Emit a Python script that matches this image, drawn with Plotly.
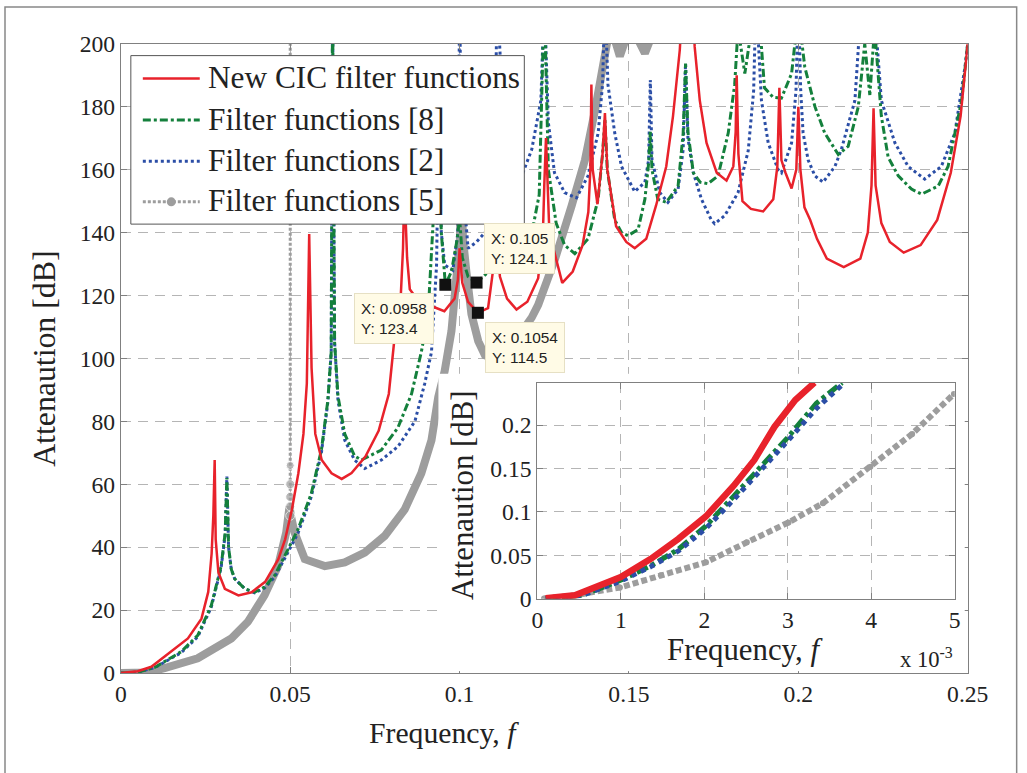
import plotly.graph_objects as go

W, H = 1027, 773

# ---------------- data ----------------
red_x = [0, 0.005, 0.009, 0.013, 0.0198, 0.0238, 0.0258, 0.0268, 0.0273, 0.0277, 0.0280, 0.0288, 0.0307,
         0.0347, 0.0386, 0.0426, 0.0465, 0.0485, 0.0505, 0.0524, 0.0539, 0.0549, 0.0553, 0.0556, 0.0563,
         0.0574, 0.0593, 0.0622, 0.0652, 0.0681, 0.0722, 0.0761, 0.0791, 0.0806, 0.0826, 0.0833, 0.0837,
         0.0845, 0.0853, 0.088, 0.092, 0.0955, 0.0985, 0.0995, 0.1, 0.1008, 0.1025, 0.1054, 0.1084, 0.1096,
         0.1111, 0.1119, 0.1140, 0.1168, 0.1200, 0.1232, 0.1246, 0.1250, 0.1255, 0.1265, 0.1303, 0.1334,
         0.1363, 0.1380, 0.1386, 0.1389, 0.1393, 0.1407, 0.1422, 0.1429, 0.1436, 0.1462, 0.1492, 0.1517,
         0.1551, 0.158, 0.161, 0.163, 0.165, 0.1667, 0.168, 0.1694, 0.1709, 0.1729, 0.1759, 0.1788, 0.1808,
         0.1815, 0.1818, 0.1823, 0.1835, 0.186, 0.1896, 0.1926, 0.1938, 0.1944, 0.1950, 0.1962, 0.198,
         0.1994, 0.2, 0.2006, 0.2018, 0.2035, 0.2055, 0.2084, 0.2134, 0.2183, 0.2205, 0.2216, 0.2222,
         0.2228, 0.2245, 0.2270, 0.2311, 0.2361, 0.241, 0.245, 0.2479, 0.25]
red_y = [0, 0.6, 2.0, 5.3, 11, 17.3, 25.8, 38, 50, 67.7, 42.5, 32, 26.8,
         24.7, 25.7, 29, 36.2, 42.5, 52, 63.5, 76, 92, 115, 139.5, 97,
         76, 67.7, 63.5, 61.7, 63.6, 68.8, 77, 88.7, 104.5, 119, 135, 155,
         132, 122, 118, 116.5, 115, 119, 125, 135, 124, 118, 114.5, 116, 125.5,
         138, 126, 119, 115.5, 118, 125.5, 140, 155, 170, 140, 124, 127.6,
         136, 146.5, 160, 187, 160, 149, 165, 178, 160, 142, 137, 135,
         138, 148.6, 161, 177, 198, 230, 230, 199, 182, 168.5, 159, 156.5, 161,
         172, 190, 165, 150, 147.5, 146.7, 150.6, 161, 186, 163, 159, 154,
         160, 180, 160, 148, 144, 138, 131.7, 129, 131.7, 140, 155, 179.5,
         155, 143, 137, 133.6, 136, 144, 159, 177, 200]

green_x = [0, 0.005, 0.01, 0.0178, 0.0227, 0.0267, 0.0296, 0.0308, 0.0313, 0.0318, 0.0326, 0.0336, 0.0366,
           0.0395, 0.0424, 0.0454, 0.0484, 0.0523, 0.0562, 0.0592, 0.0611, 0.0621, 0.0625, 0.0631, 0.0641,
           0.0661, 0.069, 0.071, 0.0769, 0.0818, 0.0858, 0.0887, 0.0907, 0.0925, 0.0938, 0.0946, 0.0958,
           0.0976, 0.0993, 0.1, 0.1008, 0.1025, 0.105, 0.108, 0.1100, 0.1111, 0.1122, 0.1150, 0.1180, 0.1210,
           0.1235, 0.1250, 0.1262, 0.1285, 0.1310, 0.134, 0.1379, 0.1409, 0.1422, 0.1429, 0.1436, 0.1458,
           0.1478, 0.1497, 0.1527, 0.1547, 0.1558, 0.1563, 0.1568, 0.1585, 0.161, 0.1645, 0.1660, 0.1667,
           0.1674, 0.1690, 0.1710, 0.1733, 0.1763, 0.1793, 0.1812, 0.1822, 0.1842, 0.1862, 0.1880, 0.1900,
           0.1925, 0.195, 0.198, 0.2, 0.2019, 0.2049, 0.2078, 0.2118, 0.2147, 0.2177, 0.2196, 0.2211, 0.2225,
           0.2245, 0.2265, 0.2295, 0.2334, 0.2364, 0.2413, 0.2442, 0.2482, 0.25]
green_y = [0, 0.3, 1.8, 6.8, 12, 21.5, 34, 44.6, 62, 40, 33, 30, 26.8,
           25.7, 27.3, 31, 37.3, 45.7, 57, 70.9, 86.6, 102, 215, 105, 88,
           76, 69, 67.7, 70.9, 78, 88.7, 102, 114, 150, 175, 140, 123.4,
           127.6, 138, 145, 132, 126, 124.1, 127, 135, 143, 138, 134, 133, 138,
           152, 215, 160, 143, 136, 133.3, 138, 150.6, 165, 176, 160, 144,
           140, 139, 141, 150.6, 162, 172, 160, 150.6, 149.6, 154.8, 171.6, 193.7,
           172, 159, 156, 155.5, 158, 171.6, 187, 205, 190.5, 205, 215, 186,
           183, 182.7, 190.5, 210, 192.6, 180, 171.6, 164.8, 167.4, 180, 200, 183.7, 205,
           177, 164, 158, 153.8, 152.2, 154.8, 161, 182, 200]

blue_x = [0, 0.005, 0.01, 0.0178, 0.0227, 0.0267, 0.0296, 0.0308, 0.0313, 0.0318, 0.0326, 0.0336, 0.0366,
          0.0395, 0.0424, 0.0454, 0.0484, 0.0523, 0.0562, 0.0592, 0.0611, 0.0621, 0.0625, 0.0631, 0.0641,
          0.0661, 0.069, 0.072, 0.0769, 0.0818, 0.0868, 0.0897, 0.0917, 0.0932, 0.0938, 0.0946, 0.0956,
          0.098, 0.0995, 0.1, 0.1006, 0.1025, 0.1050, 0.1075, 0.1100, 0.1111, 0.1125, 0.1150, 0.1173, 0.1213,
          0.1240, 0.1250, 0.1262, 0.128, 0.131, 0.1345, 0.1379, 0.1409, 0.1422, 0.1429, 0.1438, 0.1458,
          0.1478, 0.1507, 0.1517, 0.1547, 0.1558, 0.1563, 0.1568, 0.1591, 0.1615, 0.1645, 0.1660, 0.1667,
          0.1674, 0.1690, 0.1714, 0.1743, 0.1753, 0.1783, 0.1822, 0.1852, 0.1868, 0.1875, 0.1891, 0.1911,
          0.194, 0.195, 0.198, 0.1993, 0.2, 0.2007, 0.2014, 0.2029, 0.2049, 0.2073, 0.2108, 0.2127, 0.2167,
          0.2187, 0.2205, 0.2222, 0.2245, 0.2285, 0.2324, 0.2373, 0.2422, 0.2462, 0.2492, 0.25]
blue_y = [0, 0.3, 1.7, 6.5, 11.5, 21, 33.5, 44, 62.5, 40, 33, 30, 26.8,
          25.5, 27, 30.5, 36.5, 44.5, 56, 70, 86, 102, 215, 105, 86.6,
          74, 67.7, 65, 67.7, 72, 80, 92, 102, 129.7, 175, 140, 129.7,
          128, 140, 215, 160, 135, 137, 140, 144, 215, 185, 158, 155, 166.4,
          182, 215, 175, 159, 152.7, 151, 158, 171.6, 187, 215, 187, 171.6,
          161, 154.8, 153, 156, 163, 188.5, 163, 152.7, 149.6, 153.8, 166.4, 193.7,
          170, 159, 150.6, 144, 142.8, 145.4, 152.7, 166, 185, 215, 182, 168.5,
          160, 159, 168.5, 185, 215, 185, 171.6, 163, 158, 156, 161, 166.4, 182,
          215, 212, 215, 182, 168.5, 161, 157, 161, 171.6, 192.7, 200]

gray_x = [0, 0.008, 0.0129, 0.0227, 0.0326, 0.0375, 0.0424, 0.0464, 0.0488, 0.0498, 0.0502, 0.0513,
          0.0543, 0.0602, 0.0661, 0.072, 0.0779, 0.0838, 0.0887, 0.0917, 0.0937, 0.0956, 0.0976, 0.0991,
          0.1001, 0.1004, 0.1010, 0.102, 0.1035, 0.1055, 0.1075, 0.110, 0.114, 0.118, 0.1213, 0.1232, 0.1282,
          0.1331, 0.137, 0.14, 0.1419, 0.1429, 0.1445, 0.1473, 0.1505, 0.1547, 0.158, 0.165]
gray_y = [0, 0.2, 1.6, 4.7, 11, 16.3, 24.7, 34, 44.6, 53, 50, 44.6,
          36.2, 34, 35.2, 38.3, 43.6, 52, 63.5, 74, 87.7, 96, 108.7, 124.4,
          138, 160, 138, 127.6, 114, 105.5, 101, 100, 103, 108, 113, 117, 131.7,
          148.6, 163, 179, 192.6, 199, 206, 196, 206, 197, 206, 225]
# pole of Filter functions [5] at f = 0.05
gray_pole_x = [0.05, 0.05, 0.05, 0.05, 0.05, 0.05]
gray_pole_y = [50, 53, 56, 60, 66, 205]

# data tips
tip_x = [0.0958, 0.105, 0.1054]
tip_y = [123.4, 124.1, 114.5]

# inset (passband detail)
red_in_x = [0.0001, 0.00045, 0.001, 0.00136, 0.00169, 0.00202, 0.00235, 0.0026, 0.00284, 0.00309, 0.00332]
red_in_y = [0.0005, 0.004, 0.025, 0.046, 0.069, 0.095, 0.13, 0.16, 0.198, 0.229, 0.249]
green_in_x = [0.0001, 0.00054, 0.00099, 0.00136, 0.00169, 0.00202, 0.00235, 0.00268, 0.00301, 0.00334, 0.00365]
green_in_y = [0.0004, 0.004, 0.021, 0.038, 0.057, 0.084, 0.118, 0.152, 0.187, 0.225, 0.249]
blue_in_x = [0.0001, 0.00054, 0.00099, 0.00136, 0.00169, 0.00202, 0.00235, 0.00268, 0.00301, 0.00334, 0.00368]
blue_in_y = [0.0004, 0.004, 0.020, 0.037, 0.055, 0.081, 0.114, 0.148, 0.183, 0.219, 0.249]
gray_in_x = [0.00008, 0.00045, 0.00099, 0.00148, 0.00202, 0.00251, 0.00301, 0.00342, 0.00399, 0.00449, 0.00499]
gray_in_y = [0.0003, 0.004, 0.013, 0.027, 0.042, 0.065, 0.088, 0.11, 0.152, 0.19, 0.236]

main_xticks = [0, 0.05, 0.1, 0.15, 0.2, 0.25]
main_xlabels = ["0", "0.05", "0.1", "0.15", "0.2", "0.25"]
main_yticks = [0, 20, 40, 60, 80, 100, 120, 140, 160, 180, 200]
inset_xticks = [0, 0.001, 0.002, 0.003, 0.004, 0.005]
inset_xlabels = ["0", "1", "2", "3", "4", "5"]
inset_yticks = [0, 0.05, 0.1, 0.15, 0.2]
inset_ylabels = ["0", "0.05", "0.1", "0.15", "0.2"]

names = ["New CIC filter functions", "Filter functions [8]", "Filter functions [2]", "Filter functions [5]"]

RED = "#e8222b"
GREEN = "#14803c"
BLUE = "#2b4ea6"
GRAY = "#9d9d9d"
SERIF = "Liberation Serif"
TXT = "#222222"

# the captured page comes out slightly reduced and shifted; positions below are
# given in target-picture pixels and converted here.
SC = 0.975
OX, OY = 8.0, 9.0


def px_x(p):
    return ((p - OX) / SC) / W


def px_y(p):
    return 1 - ((p - OY) / SC) / H


def fs(s):
    return round(s / SC, 1)


fig = go.Figure()

# ---------- main plot ----------
fig.add_trace(go.Scatter(x=gray_x, y=gray_y, mode="lines", name=names[3], line=dict(color=GRAY, width=8),
                         hoverinfo="skip"))
fig.add_trace(go.Scatter(x=gray_pole_x, y=gray_pole_y, mode="lines+markers", name=names[3],
                         line=dict(color=GRAY, width=3, dash="3px,2px"),
                         marker=dict(color=GRAY, size=[9, 9, 9, 9, 8, 0]), hoverinfo="skip"))
fig.add_trace(go.Scatter(x=blue_x, y=blue_y, mode="lines", name=names[2],
                         line=dict(color=BLUE, width=3, dash="3px,3px")))
fig.add_trace(go.Scatter(x=green_x, y=green_y, mode="lines", name=names[1],
                         line=dict(color=GREEN, width=3, dash="8px,3px,3px,3px")))
fig.add_trace(go.Scatter(x=red_x, y=red_y, mode="lines", name=names[0],
                         line=dict(color=RED, width=2.5)))
# data tips
fig.add_trace(go.Scatter(x=tip_x, y=tip_y, mode="markers", name="data tips",
                         marker=dict(symbol="square", size=12, color="#111111")))

# ---------- white cover behind the inset ----------
fig.add_trace(go.Scatter(x=[None], y=[None], xaxis="x2", yaxis="y2", hoverinfo="skip"))

# ---------- inset ----------
fig.add_trace(go.Scatter(x=gray_in_x, y=gray_in_y, mode="lines+markers", xaxis="x3", yaxis="y3",
                         name=names[3], line=dict(color=GRAY, width=6, dash="6px,3px"),
                         marker=dict(color=GRAY, size=6)))
fig.add_trace(go.Scatter(x=green_in_x, y=green_in_y, mode="lines", xaxis="x3", yaxis="y3",
                         name=names[1], line=dict(color=GREEN, width=5, dash="12px,4px,4px,4px")))
fig.add_trace(go.Scatter(x=blue_in_x, y=blue_in_y, mode="lines", xaxis="x3", yaxis="y3",
                         name=names[2], line=dict(color=BLUE, width=5, dash="5px,5px")))
fig.add_trace(go.Scatter(x=red_in_x, y=red_in_y, mode="lines", xaxis="x3", yaxis="y3",
                         name=names[0], line=dict(color=RED, width=6.5)))

axis_common = dict(showline=True, linecolor="#808080", linewidth=1, mirror="ticks",
                   ticks="inside", ticklen=6, tickcolor="#808080", zeroline=False,
                   showgrid=True, gridcolor="#b5b5b5", gridwidth=1, griddash="10px,7px",
                   tickfont=dict(family=SERIF, size=fs(23), color=TXT))

fig.update_layout(
    width=W, height=H, autosize=False,
    margin=dict(l=0, r=0, t=0, b=0),
    paper_bgcolor="white", plot_bgcolor="white",
    showlegend=False,
    xaxis=dict(domain=[px_x(123), px_x(971)], range=[0, 0.25], tickvals=main_xticks,
               ticktext=main_xlabels, anchor="y", **axis_common),
    yaxis=dict(domain=[px_y(675), px_y(40)], range=[0, 200], tickvals=main_yticks,
               anchor="x", **axis_common),
    xaxis2=dict(domain=[px_x(441), px_x(968)], range=[0, 1], visible=False, anchor="y2"),
    yaxis2=dict(domain=[px_y(673), px_y(373)], range=[0, 1], visible=False, anchor="x2"),
    xaxis3=dict(domain=[px_x(540), px_x(958)], range=[0, 0.005], tickvals=inset_xticks,
                ticktext=inset_xlabels, anchor="y3", **axis_common),
    yaxis3=dict(domain=[px_y(600), px_y(382)], range=[0, 0.249], tickvals=inset_yticks,
                ticktext=inset_ylabels, anchor="x3", **axis_common),
)


def paper_text(text, x, y, size=28, angle=0, xanchor="center"):
    fig.add_annotation(text=text, x=px_x(x), y=px_y(y), xref="paper", yref="paper",
                       xanchor=xanchor, yanchor="middle", textangle=angle, showarrow=False,
                       font=dict(family=SERIF, size=fs(size), color=TXT))


paper_text("Attenaution [dB]", 47, 358, size=31, angle=-90)
paper_text("Frequency, <i>f</i>", 447, 735, size=29)
paper_text("Attenaution [dB]", 465, 495, size=30, angle=-90)
paper_text("Frequency, <i>f</i>", 748, 652, size=30)
paper_text("x 10<sup>-3</sup>", 930, 660, size=22)

# ---------- legend (box, key samples and labels) ----------
fig.add_shape(type="rect", xref="paper", yref="paper", x0=px_x(133), x1=px_x(527),
              y0=px_y(222), y1=px_y(52), fillcolor="white", line=dict(color="#555555", width=1),
              layer="above")
leg_rows = [75, 117, 158.5, 199.5]
leg_styles = [dict(color=RED, width=2.5), dict(color=GREEN, width=3, dash="8px,3px,3px,3px"),
              dict(color=BLUE, width=3, dash="3px,3px"), dict(color=GRAY, width=3, dash="3px,2px")]
for name, row, st in zip(names, leg_rows, leg_styles):
    fig.add_shape(type="line", xref="paper", yref="paper", x0=px_x(145), x1=px_x(202),
                  y0=px_y(row), y1=px_y(row), line=st, layer="above")
    paper_text(name, 208, row - 1, size=30.5, xanchor="left")
fig.add_shape(type="circle", xref="paper", yref="paper", x0=px_x(169), x1=px_x(178),
              y0=px_y(leg_rows[3] + 4.5), y1=px_y(leg_rows[3] - 4.5), fillcolor=GRAY,
              line=dict(color=GRAY, width=0), layer="above")

# data tip labels
tip_font = dict(family="Liberation Sans, Arial", size=fs(15), color=TXT)
tip_specs = [("right", "top", -11, -8), ("left", "bottom", 7, 9), ("left", "top", 7, -9)]
for (tx, ty, (xa, ya, xs, ys)) in zip(tip_x, tip_y, tip_specs):
    fig.add_annotation(x=tx, y=ty, xref="x", yref="y", showarrow=False,
                       text=f"X: {tx:g}<br>Y: {ty:g}", align="left",
                       xanchor=xa, yanchor=ya, xshift=xs, yshift=ys,
                       bgcolor="#fffbe6", bordercolor="#e6e0c4", borderwidth=1, borderpad=6,
                       font=tip_font)

# outer figure frame
fig.add_shape(type="rect", xref="paper", yref="paper", x0=px_x(7), x1=px_x(1020), y0=px_y(800),
              y1=px_y(3), line=dict(color="#888888", width=1.5), layer="below")

fig.write_html("out.html")
